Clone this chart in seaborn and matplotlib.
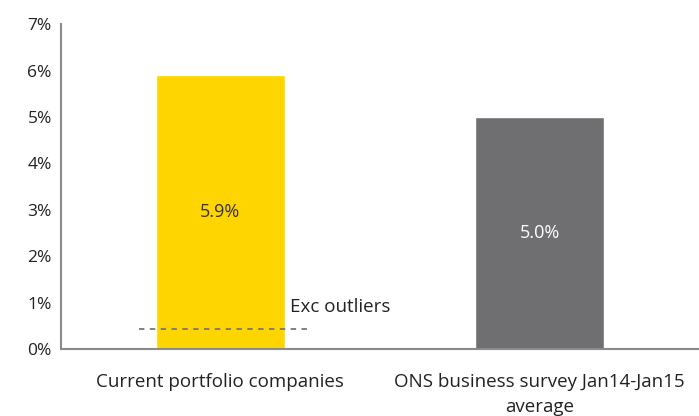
import numpy as np
import pandas as pd
import seaborn as sns
import matplotlib.pyplot as plt
from matplotlib.ticker import FuncFormatter

categories = ['Current portfolio companies', 'ONS business survey Jan14-Jan15\naverage']
values = [5.9, 5.0]
bar_colors = ['#FFD500', '#6F6F71']
label_colors = ['#333333', '#FFFFFF']
outlier_value = 0.43
outlier_label = 'Exc outliers'

df = pd.DataFrame({'category': categories, 'value': values})

sns.set_style('white')
plt.rcParams['font.family'] = ['Open Sans', 'DejaVu Sans']

fig = plt.figure(figsize=(6.99, 4.16), dpi=100)
ax = fig.add_axes([0.087, 0.161, 0.913, 0.781])

sns.barplot(data=df, x='category', y='value', hue='category', palette=bar_colors,
            width=0.405, saturation=1, legend=False, ax=ax)

for i, v in enumerate(values):
    ax.text(i, v / 2, f'{v:.1f}%', ha='center', va='center', fontsize=13,
            color=label_colors[i])

# dashed line for the figure excluding outliers
ax.hlines(outlier_value, -0.255, 0.27, colors='#777777', linestyles=(0, (3, 3)), lw=1.3)
ax.text(0.218, 0.9, outlier_label, ha='left', va='center', fontsize=13.5, color='#222222')

ax.set_xlim(-0.5, 1.5)
ax.set_ylim(0, 7)
ax.yaxis.set_major_formatter(FuncFormatter(lambda y, _: f'{y:.0f}%'))
ax.set_xlabel('')
ax.set_ylabel('')
ax.tick_params(axis='x', labelsize=13.5, colors='#222222', length=0, pad=17)
ax.tick_params(axis='y', labelsize=12.5, colors='#222222', length=0, pad=24)
for lab in ax.get_yticklabels():
    lab.set_horizontalalignment('left')
for lab in ax.get_xticklabels():
    lab.set_linespacing(1.5)

for s in ['top', 'right']:
    ax.spines[s].set_visible(False)
for s in ['left', 'bottom']:
    ax.spines[s].set_color('#8A8A8A')
    ax.spines[s].set_linewidth(1.5)

fig.savefig('out.png', dpi=100)
